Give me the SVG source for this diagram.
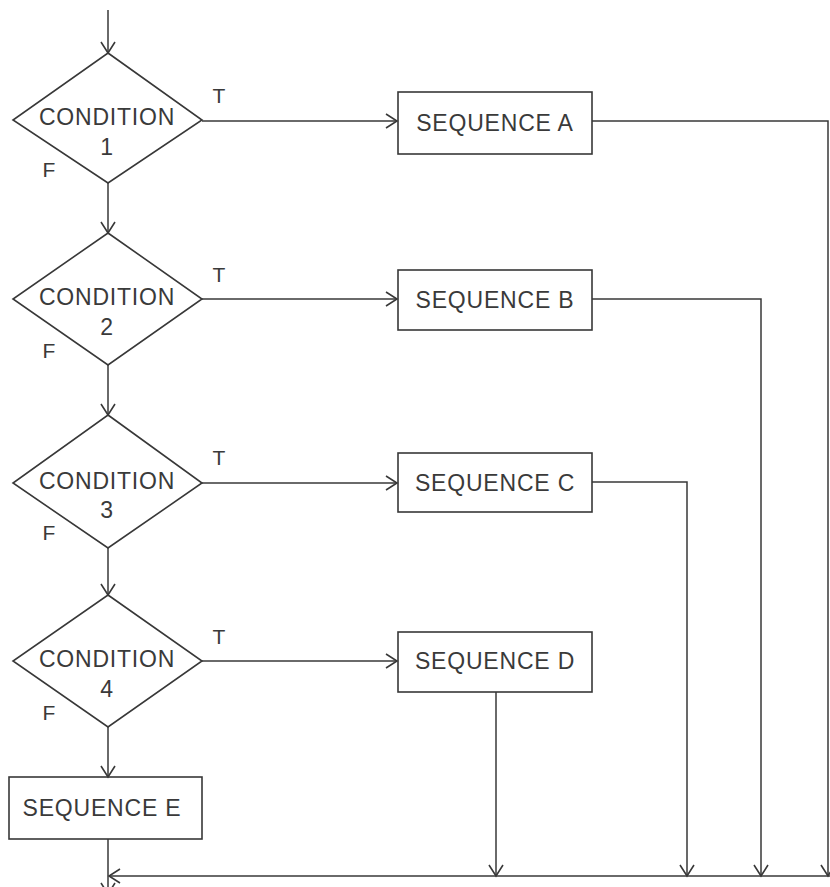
<svg xmlns="http://www.w3.org/2000/svg" width="830" height="887" viewBox="0 0 830 887">
<style>
.shape{fill:none;stroke:#383838;stroke-width:1.6;stroke-linejoin:miter}
.line{fill:none;stroke:#383838;stroke-width:1.5}
.arr{marker-end:url(#ah)}
.lbl{font-family:"Liberation Sans",Arial,sans-serif;font-size:23px;fill:#3a3a3a;text-anchor:middle;letter-spacing:0.8px}
.tf{font-family:"Liberation Sans",Arial,sans-serif;font-size:21px;fill:#3a3a3a;text-anchor:middle}
</style>
<defs>
<marker id="ah" markerUnits="userSpaceOnUse" markerWidth="16" markerHeight="18" refX="12" refY="8" orient="auto" viewBox="0 0 16 18">
<path d="M1,1 L12,8 L1,15" fill="none" stroke="#383838" stroke-width="1.6"/>
</marker>
</defs>
<rect width="830" height="887" fill="#ffffff"/>
<g id="connectors">
<line class="line arr" x1="108" y1="10" x2="108" y2="53"/>
<line class="line arr" x1="202" y1="121" x2="397" y2="121"/>
<line class="line arr" x1="108" y1="183" x2="108" y2="233"/>
<line class="line arr" x1="202" y1="299" x2="397" y2="299"/>
<line class="line arr" x1="108" y1="365" x2="108" y2="415"/>
<line class="line arr" x1="202" y1="483" x2="397" y2="483"/>
<line class="line arr" x1="108" y1="548" x2="108" y2="595"/>
<line class="line arr" x1="202" y1="661" x2="397" y2="661"/>
<line class="line arr" x1="108" y1="727" x2="108" y2="777"/>
<polyline class="line arr" points="592,121 828,121 828,876"/>
<polyline class="line arr" points="592,299 761,299 761,876"/>
<polyline class="line arr" points="592,482 687,482 687,876"/>
<line class="line arr" x1="496" y1="692" x2="496" y2="876"/>
<line class="line arr" x1="830" y1="876" x2="109" y2="876"/>
<line class="line arr" x1="108" y1="839" x2="108" y2="894"/>
</g>
<g id="cond1">
<polygon class="shape" points="108,53 202,120 108,183 13,120"/>
<text class="lbl" x="107" y="125">CONDITION</text>
<text class="lbl" x="107" y="155">1</text>
<text class="tf" x="219" y="103">T</text>
<text class="tf" x="49" y="177">F</text>
</g>
<g id="cond2">
<polygon class="shape" points="108,233 202,299 108,365 13,299"/>
<text class="lbl" x="107" y="305">CONDITION</text>
<text class="lbl" x="107" y="335">2</text>
<text class="tf" x="219" y="282">T</text>
<text class="tf" x="49" y="358">F</text>
</g>
<g id="cond3">
<polygon class="shape" points="108,415 202,483 108,548 13,483"/>
<text class="lbl" x="107" y="489">CONDITION</text>
<text class="lbl" x="107" y="518">3</text>
<text class="tf" x="219" y="465">T</text>
<text class="tf" x="49" y="540">F</text>
</g>
<g id="cond4">
<polygon class="shape" points="108,595 202,661 108,727 13,661"/>
<text class="lbl" x="107" y="667">CONDITION</text>
<text class="lbl" x="107" y="697">4</text>
<text class="tf" x="219" y="644">T</text>
<text class="tf" x="49" y="720">F</text>
</g>
<g id="seqA">
<rect class="shape" x="398" y="92" width="194" height="62"/>
<text class="lbl" x="495" y="131">SEQUENCE A</text>
</g>
<g id="seqB">
<rect class="shape" x="398" y="270" width="194" height="60"/>
<text class="lbl" x="495" y="308">SEQUENCE B</text>
</g>
<g id="seqC">
<rect class="shape" x="398" y="453" width="194" height="59"/>
<text class="lbl" x="495" y="491">SEQUENCE C</text>
</g>
<g id="seqD">
<rect class="shape" x="398" y="632" width="194" height="60"/>
<text class="lbl" x="495" y="669">SEQUENCE D</text>
</g>
<g id="seqE">
<rect class="shape" x="9" y="777" width="193" height="62"/>
<text class="lbl" x="102" y="816">SEQUENCE E</text>
</g>
</svg>
